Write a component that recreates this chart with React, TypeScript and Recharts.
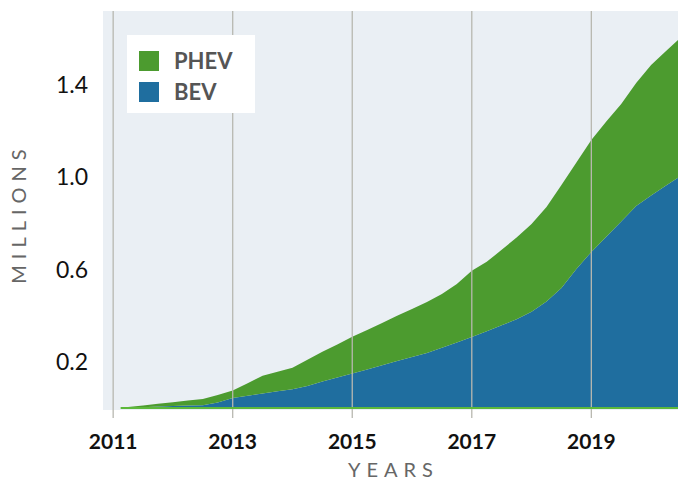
import React from "react";
import {
  Area,
  AreaChart,
  CartesianGrid,
  Legend,
  ReferenceLine,
  XAxis,
  YAxis,
} from "recharts";

// quarterly, cumulative stock in millions
const years = [
  2011.125, 2011.25, 2011.5, 2011.75, 2012, 2012.25, 2012.5, 2012.75, 2013,
  2013.25, 2013.5, 2013.75, 2014, 2014.25, 2014.5, 2014.75, 2015, 2015.25,
  2015.5, 2015.75, 2016, 2016.25, 2016.5, 2016.75, 2017, 2017.25, 2017.5,
  2017.75, 2018, 2018.25, 2018.5, 2018.75, 2019, 2019.25, 2019.5, 2019.75,
  2020, 2020.25, 2020.45,
];

const bevValues = [
  0, 0.002, 0.003, 0.006, 0.008, 0.01, 0.012, 0.023, 0.043, 0.053, 0.062,
  0.072, 0.081, 0.095, 0.114, 0.132, 0.149, 0.167, 0.185, 0.203, 0.221, 0.238,
  0.261, 0.284, 0.307, 0.332, 0.358, 0.384, 0.417, 0.461, 0.52, 0.602, 0.676,
  0.742, 0.808, 0.875, 0.921, 0.964, 0.997,
];

const phevValues = [
  0, 0.002, 0.008, 0.012, 0.017, 0.022, 0.027, 0.033, 0.033, 0.054, 0.077,
  0.085, 0.093, 0.114, 0.129, 0.143, 0.159, 0.171, 0.183, 0.196, 0.208, 0.221,
  0.233, 0.253, 0.287, 0.301, 0.327, 0.355, 0.38, 0.41, 0.446, 0.462, 0.485,
  0.499, 0.509, 0.533, 0.565, 0.583, 0.597,
];

const xTicks = [2011, 2013, 2015, 2017, 2019];
const yTicks = [0.2, 0.6, 1.0, 1.4];

const GREEN = "#4c9b2f";
const BLUE = "#1f6e9f";
const GRID = "#b8b8b0";
const FONT = "Lato, 'Open Sans', sans-serif";

const data = years.map((year, i) => ({
  year,
  bev: bevValues[i],
  phev: phevValues[i],
}));

function LegendBox() {
  const items = [
    { name: "PHEV", color: GREEN },
    { name: "BEV", color: BLUE },
  ];
  return (
    <div
      style={{
        background: "#fff",
        width: 128,
        height: 78,
        boxSizing: "border-box",
        padding: "10px 0 0 12px",
        fontFamily: FONT,
      }}
    >
      {items.map((item) => (
        <div
          key={item.name}
          style={{ display: "flex", alignItems: "center", height: 31 }}
        >
          <div
            style={{ width: 20, height: 20, background: item.color }}
          />
          <span
            style={{
              marginLeft: 15,
              fontSize: 22,
              fontWeight: 700,
              color: "#555",
              lineHeight: "20px",
            }}
          >
            {item.name}
          </span>
        </div>
      ))}
    </div>
  );
}

function MillionsLabel(props: any) {
  const vb = props.viewBox || { x: 0, y: 11, width: 103, height: 399 };
  const cx = 18;
  const cy = vb.y + vb.height / 2 + 3;
  return (
    <text
      x={cx}
      y={cy}
      transform={`rotate(-90, ${cx}, ${cy})`}
      textAnchor="middle"
      dominantBaseline="central"
      fontSize={20}
      letterSpacing={6}
      fill="#666"
      fontFamily={FONT}
    >
      MILLIONS
    </text>
  );
}

function YearsLabel(props: any) {
  const vb = props.viewBox || { x: 103, y: 410, width: 575, height: 70 };
  const cx = vb.x + vb.width / 2 + 3;
  return (
    <text
      x={cx}
      y={469}
      textAnchor="middle"
      dominantBaseline="central"
      fontSize={20}
      letterSpacing={6}
      fill="#666"
      fontFamily={FONT}
    >
      YEARS
    </text>
  );
}

export default function App() {
  return (
    <div style={{ position: "absolute", left: 0, top: 0 }}>
      <AreaChart
        width={678}
        height={480}
        data={data}
        margin={{ top: 11, right: 0, bottom: 0, left: 0 }}
      >
        <CartesianGrid
          horizontal={false}
          vertical={false}
          fill="#eaeff4"
        />

        <XAxis
          dataKey="year"
          type="number"
          domain={[2010.83, 2020.45]}
          ticks={xTicks}
          interval={0}
          allowDataOverflow
          height={70}
          axisLine={false}
          tickSize={8}
          tickMargin={16}
          tickLine={{ stroke: GRID, strokeWidth: 1.3 }}
          tick={{
            fontSize: 21,
            fontWeight: 700,
            fill: "#111",
            fontFamily: FONT,
          }}
          label={<YearsLabel />}
        />

        <YAxis
          type="number"
          domain={[-0.009, 1.72]}
          ticks={yTicks}
          allowDataOverflow
          width={103}
          axisLine={false}
          tickLine={false}
          tickSize={0}
          tickMargin={15}
          tickFormatter={(v: number) => v.toFixed(1)}
          tick={{ fontSize: 23, fill: "#111", fontFamily: FONT }}
          label={<MillionsLabel />}
        />

        <Area
          type="linear"
          dataKey="bev"
          name="BEV"
          stackId="ev"
          stroke="none"
          fill={BLUE}
          fillOpacity={1}
          isAnimationActive={false}
        />
        <Area
          type="linear"
          dataKey="phev"
          name="PHEV"
          stackId="ev"
          stroke="none"
          fill={GREEN}
          fillOpacity={1}
          isAnimationActive={false}
        />

        {/* vertical grid lines, drawn over the areas like the original */}
        {xTicks.map((t) => (
          <ReferenceLine
            key={t}
            x={t}
            stroke={GRID}
            strokeWidth={1.3}
          />
        ))}

        <ReferenceLine
          segment={[
            { x: years[0], y: 0 },
            { x: years[years.length - 1], y: 0 },
          ]}
          stroke="#5cb83a"
          strokeWidth={2}
          ifOverflow="visible"
        />

        <Legend
          layout="horizontal"
          verticalAlign="middle"
          align="center"
          content={() => <LegendBox />}
          wrapperStyle={{ left: 127, top: 35, width: 128, height: 78 }}
        />
      </AreaChart>
    </div>
  );
}
